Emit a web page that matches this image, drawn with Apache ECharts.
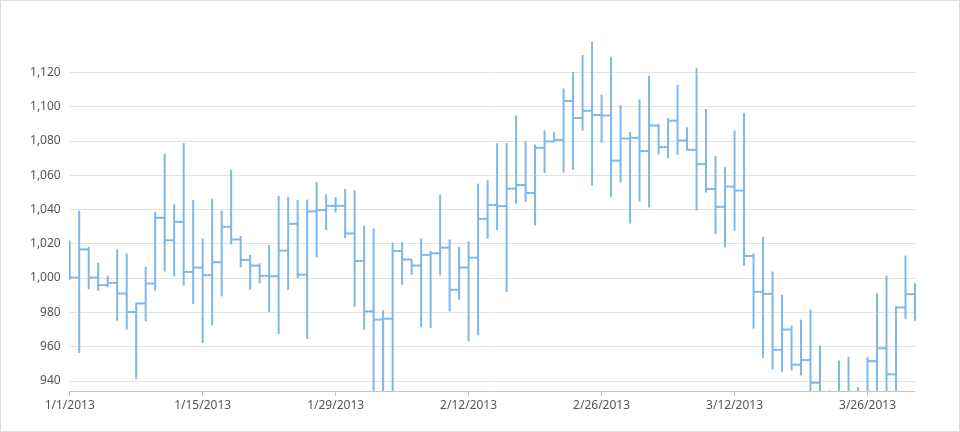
<!DOCTYPE html>
<html>
<head>
<meta charset="utf-8">
<script src="https://cdn.jsdelivr.net/npm/echarts@6/dist/echarts.min.js"></script>
<style>
  html, body { margin: 0; padding: 0; background: #fff; }
  #main { width: 960px; height: 432px; box-sizing: border-box; border: 1px solid #dcdcdc; }
</style>
</head>
<body>
<div id="main"></div>
<script>
// daily bars from 1/1/2013 to 3/31/2013
var dias = [];
for (var d = new Date(2013, 0, 1); d <= new Date(2013, 2, 31); d.setDate(d.getDate() + 1)) {
    dias.push((d.getMonth() + 1) + '/' + d.getDate() + '/' + d.getFullYear());
}

var yTicks = [940, 960, 980, 1000, 1020, 1040, 1060, 1080, 1100, 1120];

var open = [1010, 1000.3, 1016.7, 1000.3, 995.9, 997.2, 991, 980.2, 985.2, 996.8,
    1035.1, 1022, 1032.8, 1003.6, 1006.1, 1001.7, 1009.2, 1029.9, 1022.5, 1010.6,
    1007.3, 1001.3, 1001.1, 1016, 1031.6, 1002, 1038.8, 1039.6, 1042.1, 1042.1,
    1026, 1010, 980.6, 975.8, 976.3, 1015.8, 1010.8, 1007.3, 1013.5, 1014.4,
    1017.7, 993.2, 1006.1, 1011.9, 1034.5, 1042.6, 1041.9, 1052.1, 1054.2, 1049.6,
    1075.9, 1079.6, 1080.5, 1103.2, 1093.3, 1097.5, 1095, 1094.7, 1068.4, 1081.3,
    1081.7, 1074, 1088.9, 1076.3, 1091.7, 1080.2, 1074.7, 1066.4, 1051.9, 1041.5,
    1053.3, 1051, 1012.9, 992, 990.8, 958.2, 970, 949.5, 952.2, 939,
    930, 925, 928, 930, 926, 951.6, 959.1, 943.9, 982.9, 990.6];
var high = [1021.8, 1039.2, 1018.3, 1009, 1001.3, 1016.7, 1014.4, 985.4, 1006.7, 1038.6,
    1072.4, 1043, 1078.6, 1045.4, 1023.1, 1046.3, 1039.2, 1063.1, 1024.5, 1013.5,
    1008.6, 1019.3, 1047.9, 1047.3, 1045.4, 1045.7, 1056, 1048.8, 1047.3, 1051.9,
    1051.2, 1030.5, 1028.9, 981.2, 1020.6, 1020.8, 1010.9, 1023.1, 1016, 1048.6,
    1022.5, 1018.3, 1021.4, 1055, 1057, 1078.6, 1078.6, 1094.7, 1079.8, 1077.8,
    1086, 1085, 1110.5, 1120.2, 1130, 1137.6, 1106.8, 1128.9, 1100.8, 1085,
    1104.1, 1117.8, 1089.8, 1093.3, 1112.6, 1087.9, 1122.3, 1098.5, 1071.1, 1064.7,
    1086, 1096.2, 1014.4, 1024.1, 1003.8, 990.3, 972.3, 975.8, 981.6, 960.7,
    934.5, 952, 954.1, 936.5, 953.9, 991.2, 1001.3, 983.5, 1013.1, 997];
var low = [999, 956.4, 993.5, 992.6, 994.7, 975.2, 970, 941, 974.8, 992.6,
    1003.8, 1000.9, 995.7, 984.8, 962.2, 972.5, 989.3, 1019.6, 1006.3, 993.2,
    997, 980.2, 967.4, 993.2, 999.9, 964.5, 1012.1, 1028, 1038.2, 1023.3,
    983.1, 970, 925, 928, 926, 996.1, 1001.9, 971.3, 970.9, 1001.5,
    980.6, 987.4, 963.2, 966.7, 1022.9, 1028, 991.8, 1043.4, 1044.4, 1030.7,
    1061.2, 1079.2, 1061.4, 1063.1, 1086, 1054, 1078.8, 1047.3, 1055.6, 1031.8,
    1044.6, 1041.1, 1072, 1069.9, 1071.8, 1074.4, 1039.2, 1049.8, 1025.6, 1017.9,
    1027.6, 1007.3, 970.5, 953.5, 946.8, 945.4, 946.2, 943.3, 925, 922,
    915, 918, 920, 918, 920, 928, 926, 930, 976.3, 975.2];
var close = [1000.3, 1016.7, 1000.3, 995.9, 997.2, 991, 980.2, 985.2, 996.8, 1035.1,
    1022, 1032.8, 1003.6, 1006.1, 1001.7, 1009.2, 1029.9, 1022.5, 1010.6, 1007.3,
    1001.3, 1001.1, 1016, 1031.6, 1002, 1038.8, 1039.6, 1042.1, 1042.1, 1026,
    1010, 980.6, 975.8, 976.3, 1015.8, 1010.8, 1007.3, 1013.5, 1014.4, 1017.7,
    993.2, 1006.1, 1011.9, 1034.5, 1042.6, 1041.9, 1052.1, 1054.2, 1049.6, 1075.9,
    1079.6, 1080.5, 1103.2, 1093.3, 1097.5, 1095, 1094.7, 1068.4, 1081.3, 1081.7,
    1074, 1088.9, 1076.3, 1091.7, 1080.2, 1074.7, 1066.4, 1051.9, 1041.5, 1053.3,
    1051, 1012.9, 992, 990.8, 958.2, 970, 949.5, 952.2, 939, 930,
    925, 928, 930, 926, 951.6, 959.1, 943.9, 982.9, 990.6, 985];

var data = [];
for (var i = 0; i < dias.length; i++) {
    data.push([i, open[i], high[i], low[i], close[i]]);
}

var color = '#7fb7e6';
var fuente = "'Segoe UI', 'Noto Sans', sans-serif";

function ohlcItem(params, api) {
    var x = api.value(0);
    var pO = api.coord([x, api.value(1)]);
    var pH = api.coord([x, api.value(2)]);
    var pL = api.coord([x, api.value(3)]);
    var pC = api.coord([x, api.value(4)]);
    var half = api.size([1, 0])[0] / 2;
    var st = {stroke: color, lineWidth: 2};
    return {
        type: 'group',
        children: [
            {type: 'line', shape: {x1: pH[0], y1: pH[1], x2: pL[0], y2: pL[1]}, style: st},
            {type: 'line', shape: {x1: pO[0] - half, y1: pO[1], x2: pO[0], y2: pO[1]}, style: st},
            {type: 'line', shape: {x1: pC[0], y1: pC[1], x2: pC[0] + half, y2: pC[1]}, style: st}
        ]
    };
}

var myChart = echarts.init(document.getElementById('main'));

var option = {
    animation: false,
    grid: {left: 68.7, right: 44, top: 38, bottom: 40},
    xAxis: {
        type: 'category',
        data: dias,
        boundaryGap: false,
        axisLine: {lineStyle: {color: '#c6c6c6', width: 1}},
        axisTick: {interval: 13, length: 5, lineStyle: {color: '#c6c6c6'}},
        axisLabel: {interval: 13, color: '#555', fontSize: 12, fontFamily: fuente, margin: 9},
        splitLine: {show: false}
    },
    yAxis: {
        type: 'value',
        min: 934.2,
        max: 1139.3,
        axisLine: {show: false},
        axisTick: {show: false, customValues: yTicks},
        axisLabel: {
            customValues: yTicks,
            color: '#555',
            fontSize: 12,
            fontFamily: fuente,
            margin: 9,
            formatter: function (v) { return v.toLocaleString('en-US'); }
        },
        splitLine: {lineStyle: {color: '#e2e2e2', width: 1}}
    },
    series: [
        {
            type: 'custom',
            clip: true,
            renderItem: ohlcItem,
            encode: {x: 0, y: [1, 2, 3, 4]},
            data: data
        }
    ]
};
myChart.setOption(option);
</script>
</body>
</html>
